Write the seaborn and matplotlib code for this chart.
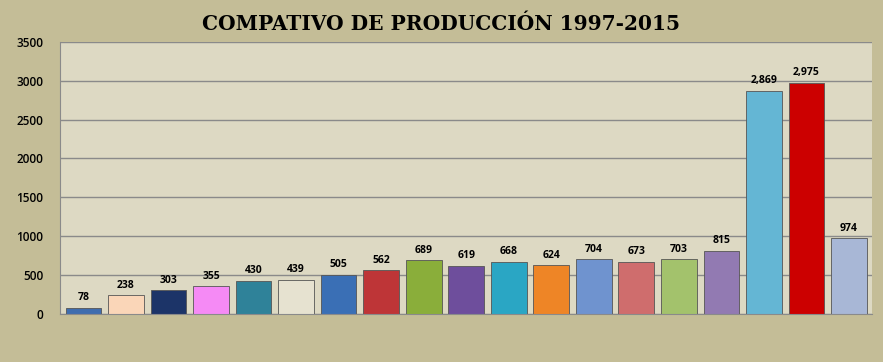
import seaborn as sns
import pandas as pd
import matplotlib.pyplot as plt

years = [str(y) for y in range(1997, 2016)]
values = [78, 238, 303, 355, 430, 439, 505, 562, 689, 619, 668, 624,
          704, 673, 703, 815, 2869, 2975, 974]
colors = ["#3F6DAE", "#FAD6B8", "#1C3468", "#F58AF5", "#2F8299", "#E6E2D0",
          "#3A6FB5", "#BE3537", "#8AAE3A", "#6E4E9C", "#2AA6C4", "#EE8526",
          "#6F93CF", "#CF6D6D", "#A3C26C", "#927AB2", "#64B6D4", "#CC0000",
          "#A8B7D6"]

df = pd.DataFrame({"year": years, "value": values})

sns.set_style("white")
fig = plt.figure(figsize=(8.83, 3.62), dpi=100, facecolor="#C4BD97")
ax = fig.add_axes([0.068, 0.1326, 0.92, 0.752])
ax.set_facecolor("#DDD9C3")

sns.barplot(data=df, x="year", y="value", hue="year", palette=colors,
            saturation=1, legend=False, width=0.84, edgecolor="#555555",
            linewidth=0.6, ax=ax)

# value labels above each bar
for i, v in enumerate(values):
    ax.text(i, v + 60, f"{v:,}", ha="center", va="bottom", fontsize=7.5,
            fontweight="bold", family="Open Sans", color="black")

ax.set_ylim(0, 3500)
ax.set_yticks(range(0, 3501, 500))
ax.set_xlim(-0.55, len(values) - 0.45)
ax.yaxis.grid(True, color="#8A8A8A", linewidth=1)
ax.set_axisbelow(True)
ax.set_xticks([])
ax.set_xlabel("")
ax.set_ylabel("")
ax.tick_params(axis="y", length=0, labelsize=8.5, pad=12, labelcolor="black")
for lab in ax.get_yticklabels():
    lab.set_fontfamily("Open Sans")
    lab.set_fontweight("semibold")
for s in ["top", "right"]:
    ax.spines[s].set_visible(False)
for s in ["left", "bottom"]:
    ax.spines[s].set_color("#8A8A8A")

fig.text(0.5, 0.935, "COMPATIVO DE PRODUCCIÓN 1997-2015", ha="center",
         va="center", fontsize=14.5, fontweight="heavy", family="DejaVu Serif",
         color="black")

fig.savefig("out.png", dpi=100, facecolor=fig.get_facecolor())
